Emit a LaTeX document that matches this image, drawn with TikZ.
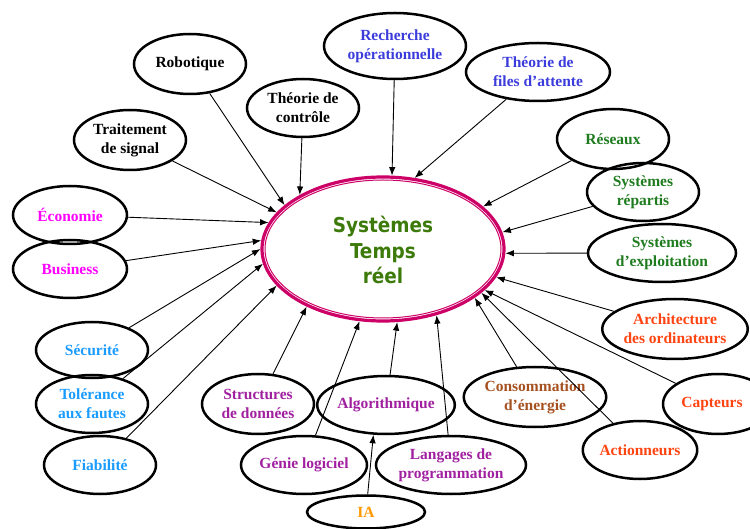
\documentclass[tikz,border=0pt]{standalone}
\usepackage{fontspec}
\setmainfont{Liberation Serif}
\newfontfamily\ctrfont{DejaVu Sans Condensed}
\usetikzlibrary{shapes.geometric,arrows.meta}

\definecolor{cBlue}{RGB}{60,60,220}
\definecolor{cGreen}{RGB}{30,123,30}
\definecolor{cMag}{RGB}{255,0,255}
\definecolor{cSky}{RGB}{25,155,255}
\definecolor{cPurple}{RGB}{160,32,160}
\definecolor{cOrange}{RGB}{255,153,0}
\definecolor{cBrown}{RGB}{165,80,30}
\definecolor{cRed}{RGB}{255,68,17}
\definecolor{cOlive}{RGB}{60,122,10}
\definecolor{cRim}{RGB}{204,0,102}

\tikzset{
  topic/.style={ellipse, draw=black, line width=2.5pt, inner sep=0pt,
    align=center, font=\fontsize{15.5}{19}\selectfont\bfseries},
  arr/.style={-{Latex[length=8.5pt,width=6.5pt]}, line width=0.9pt, black},
}

\begin{document}
\begin{tikzpicture}[x=1pt,y=-1pt]
\useasboundingbox (0,0) rectangle (750,529);

% central topic with a double rim
\node[ellipse, draw=cRim, line width=3.2pt, minimum width=242pt, minimum height=144pt,
      inner sep=0pt] (c) at (383,249) {};
\draw[cRim, line width=1pt] (c.center) ellipse [x radius=118pt, y radius=69pt];
\node[align=center, text=cOlive, font=\ctrfont\bfseries\fontsize{20.5}{25.5}\selectfont]
  (ctitle) at (383,250) {Systèmes\\Temps\\réel};

% surrounding topics
\node[topic, minimum width=112pt, minimum height=60pt] (rob) at (190,64) {Robotique};
\node[topic, minimum width=142pt, minimum height=66pt, text=cBlue] (rech) at (395,46) {Recherche\\opérationnelle};
\node[topic, minimum width=144pt, minimum height=58pt, text=cBlue] (files) at (538,72) {Théorie de\\files d’attente};
\node[topic, minimum width=112pt, minimum height=58pt] (ctrl) at (303,108) {Théorie de\\contrôle};
\node[topic, minimum width=112pt, minimum height=60pt] (sig) at (130,140) {Traitement\\de signal};
\node[topic, minimum width=114pt, minimum height=58pt, text=cMag] (eco) at (70,215) {Économie};
\node[topic, minimum width=114pt, minimum height=58pt, text=cMag] (bus) at (70,269) {Business};
\node[topic, minimum width=112pt, minimum height=56pt, text=cSky] (sec) at (92,350) {Sécurité};
\node[topic, minimum width=112pt, minimum height=58pt, text=cSky] (tol) at (92,404) {Tolérance\\aux fautes};
\node[topic, minimum width=112pt, minimum height=58pt, text=cSky] (fia) at (100,465) {Fiabilité};
\node[topic, minimum width=112pt, minimum height=60pt, text=cPurple] (struct) at (258,404) {Structures\\de données};
\node[topic, minimum width=112pt, minimum height=58pt, text=cPurple] (gen) at (304,465) {Génie logiciel};
\node[topic, minimum width=112pt, minimum height=58pt, text=cPurple] (algo) at (386,405) {Algorithmique};
\node[topic, minimum width=118pt, minimum height=33pt, text=cOrange] (ia) at (366,512) {IA};
\node[topic, minimum width=150pt, minimum height=58pt, text=cPurple] (lang) at (451,465) {Langages de\\programmation};
\node[topic, minimum width=136pt, minimum height=60pt, text=cBrown] (cons) at (535,397) {Consommation\\d’énergie};
\node[topic, minimum width=142pt, minimum height=60pt, text=cRed] (arch) at (675,329) {Architecture\\des ordinateurs};
\node[topic, minimum width=110pt, minimum height=60pt, text=cRed] (capt) at (718,404) {\hspace*{-12pt}Capteurs};
\node[topic, minimum width=104pt, minimum height=58pt, text=cRed] (act) at (640,450) {Actionneurs};
\node[topic, minimum width=112pt, minimum height=60pt, text=cGreen] (res) at (613,139) {Réseaux};
\node[topic, minimum width=112pt, minimum height=58pt, text=cGreen] (rep) at (643,192) {Systèmes\\répartis};
\node[topic, minimum width=148pt, minimum height=58pt, text=cGreen] (exp) at (662,253) {Systèmes\\d’exploitation};

% connectors into the central topic
\draw[arr] (rob) -- (c.156);
\draw[arr] (ctrl) -- (c.147);
\draw[arr] (sig) -- (c.161.5);
\draw[arr] (eco) -- (c.167.4);
\draw[arr] (bus) -- (c.176.3);
\draw[arr] (sec) -- (c.180.5);
\draw[arr] (tol) -- (c.187);
\draw[arr] (fia) -- (c.199.4);
\draw[arr] (struct) -- (c.217);
\draw[arr] (gen) -- (c.252.5);
\draw[arr] (algo) -- (c.281.5);
\draw[arr] (lang) -- (c.309.3);
\draw[arr] (cons) -- (c.332);
\draw[arr] (act) -- (c.336.3);
\draw[arr] (capt) -- (c.338.1);
\draw[arr] (arch) -- (c.346.3);
\draw[arr] (exp) -- (c.358);
\draw[arr] (rep) -- (c.8.8);
\draw[arr] (res) -- (c.23.5);
\draw[arr] (files) -- (c.66.3);
\draw[arr] (rech) -- (c.83);
\draw[arr] (ia) -- (algo.247);
\end{tikzpicture}
\end{document}
